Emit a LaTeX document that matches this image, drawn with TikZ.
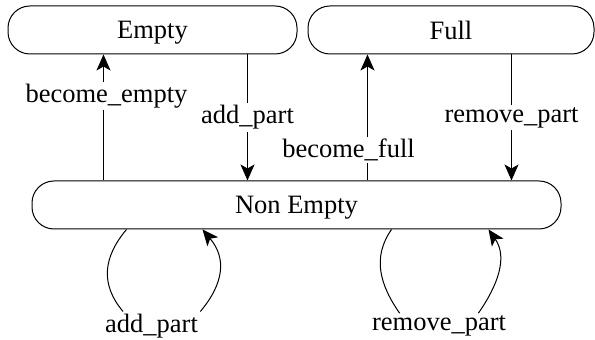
\documentclass[tikz,border=0pt]{standalone}
\usepackage{fontspec}
\setmainfont{Liberation Serif}
\usetikzlibrary{arrows.meta}

\begin{document}
\begin{tikzpicture}[
  x=0.5pt, y=0.5pt,
  line width=0.5pt,
  every node/.style={font=\fontsize{13.25pt}{16pt}\selectfont},
  state box/.style={draw, rounded corners=11pt, minimum height=24pt, text depth=0pt},
  event label/.style={fill=white, inner sep=1pt},
  >={Stealth[length=8pt,width=7pt,inset=2pt]},
]
\useasboundingbox (0,0) rectangle (595,340);
\node[state box, minimum width=144.5pt] (empty) at (152.5,310) {Empty};
\node[state box, minimum width=143pt] (full) at (451,310) {Full};
\node[state box, minimum width=264.5pt] (nonempty) at (296.5,135) {Non Empty};

\draw[->] ([xshift=36pt]nonempty.north west) -- node[event label, pos=0.67, xshift=1.5pt] {become\_empty} ([xshift=48pt]empty.south west);
\draw[->] ([xshift=120pt]empty.south west) -- node[event label] {add\_part} ([xshift=108pt]nonempty.north west);
\draw[->] ([xshift=168pt]nonempty.north west) -- node[event label, pos=0.24, xshift=-9.5pt] {become\_full} ([xshift=30pt]full.south west);
\draw[->] ([xshift=102pt]full.south west) -- node[event label] {remove\_part} ([xshift=240pt]nonempty.north west);

% self loops on Non Empty
\node[event label] (addself) at (151.5,14) {add\_part};
\node[event label] (removeself) at (439,14) {remove\_part};
\draw ([xshift=47.5pt]nonempty.south west) to[out=-130, in=130, looseness=1.12] (addself.153);
\draw[->] (addself.north east) to[out=50, in=-50, looseness=1.16] ([xshift=85.5pt]nonempty.south west);
\draw ([xshift=180pt]nonempty.south west) to[out=-125, in=125, looseness=1.04] (removeself.162);
\draw[->] (removeself.18) to[out=55, in=-55, looseness=1.03] ([xshift=228.5pt]nonempty.south west);
\end{tikzpicture}
\end{document}
